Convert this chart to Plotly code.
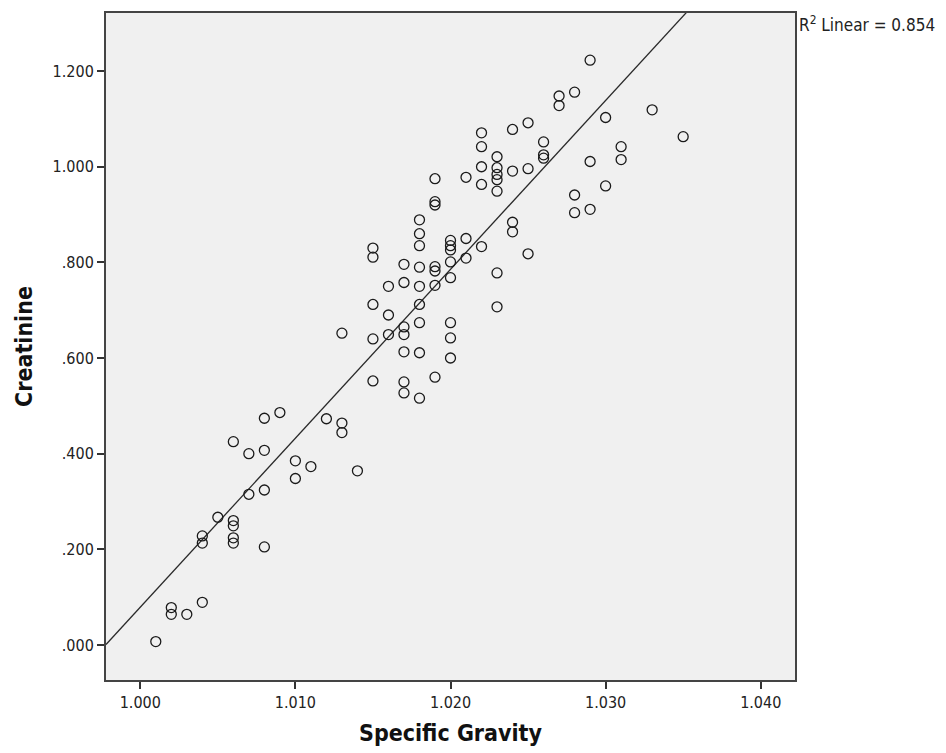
import numpy as np
import plotly.graph_objects as go

# Urine specific gravity vs creatinine, one entry per specimen
specific_gravity = [
    1.001,
    1.002, 1.002,
    1.003,
    1.004, 1.004, 1.004,
    1.005,
    1.006, 1.006, 1.006, 1.006, 1.006,
    1.007, 1.007,
    1.008, 1.008, 1.008, 1.008,
    1.009,
    1.010, 1.010,
    1.011,
    1.012,
    1.013, 1.013, 1.013,
    1.014,
    1.015, 1.015, 1.015, 1.015, 1.015,
    1.016, 1.016, 1.016,
    1.017, 1.017, 1.017, 1.017, 1.017, 1.017, 1.017,
    1.018, 1.018, 1.018, 1.018, 1.018, 1.018, 1.018, 1.018, 1.018,
    1.019, 1.019, 1.019, 1.019, 1.019, 1.019, 1.019,
    1.020, 1.020, 1.020, 1.020, 1.020, 1.020, 1.020, 1.020,
    1.021, 1.021, 1.021,
    1.022, 1.022, 1.022, 1.022, 1.022,
    1.023, 1.023, 1.023, 1.023, 1.023, 1.023, 1.023,
    1.024, 1.024, 1.024, 1.024,
    1.025, 1.025, 1.025,
    1.026, 1.026, 1.026,
    1.027, 1.027,
    1.028, 1.028, 1.028,
    1.029, 1.029, 1.029,
    1.030, 1.030,
    1.031, 1.031,
    1.033,
    1.035,
]
creatinine = [
    0.007,
    0.078, 0.064,
    0.064,
    0.089, 0.228, 0.213,
    0.267,
    0.260, 0.249, 0.224, 0.213, 0.425,
    0.315, 0.400,
    0.324, 0.205, 0.407, 0.474,
    0.486,
    0.385, 0.348,
    0.373,
    0.473,
    0.464, 0.444, 0.652,
    0.364,
    0.712, 0.640, 0.552, 0.830, 0.811,
    0.690, 0.649, 0.750,
    0.665, 0.649, 0.613, 0.550, 0.527, 0.796, 0.758,
    0.712, 0.674, 0.611, 0.516, 0.889, 0.860, 0.835, 0.790, 0.750,
    0.560, 0.975, 0.927, 0.920, 0.791, 0.782, 0.752,
    0.674, 0.642, 0.600, 0.846, 0.835, 0.826, 0.801, 0.768,
    0.978, 0.850, 0.809,
    1.071, 1.042, 1.000, 0.963, 0.833,
    1.021, 0.998, 0.984, 0.973, 0.949, 0.778, 0.707,
    1.078, 0.991, 0.884, 0.864,
    1.092, 0.996, 0.818,
    1.052, 1.025, 1.018,
    1.148, 1.128,
    1.156, 0.941, 0.904,
    1.223, 1.011, 0.911,
    1.103, 0.960,
    1.042, 1.015,
    1.119,
    1.063,
]

x_tick_vals = [1.000, 1.010, 1.020, 1.030, 1.040]
x_tick_text = ["1.000", "1.010", "1.020", "1.030", "1.040"]
y_tick_vals = [0.0, 0.2, 0.4, 0.6, 0.8, 1.0, 1.2]
y_tick_text = [".000", ".200", ".400", ".600", ".800", "1.000", "1.200"]

x_range = [0.99779, 1.04221]
y_range = [-0.0734, 1.3216]

fit_label = "R<sup>2</sup> Linear = 0.854"

# least-squares fit line across the whole x range
sg = np.array(specific_gravity)
cr = np.array(creatinine)
slope, intercept = np.polyfit(sg, cr, 1)
fit_x = np.array(x_range)
fit_y = slope * fit_x + intercept

FONT = "DejaVu Sans Condensed, Liberation Sans Narrow, DejaVu Sans, sans-serif"
INK = "#222222"

fig = go.Figure()
fig.add_trace(go.Scatter(
    x=fit_x, y=fit_y, mode="lines",
    line=dict(color="#2a2a2a", width=1.3),
    hoverinfo="skip", showlegend=False,
))
fig.add_trace(go.Scatter(
    x=specific_gravity, y=creatinine, mode="markers",
    marker=dict(symbol="circle-open", size=10, color="#1a1a1a",
                line=dict(width=1.3, color="#1a1a1a")),
    showlegend=False,
))

fig.add_annotation(
    text=fit_label, xref="paper", yref="paper", x=1.0, y=0.984,
    xanchor="left", yanchor="middle", xshift=2, showarrow=False,
    font=dict(family=FONT, size=17, color=INK),
)

axis_common = dict(
    showgrid=False, zeroline=False,
    showline=True, mirror=True, linecolor="#444444", linewidth=2,
    ticks="outside", ticklen=7, tickwidth=1.5, tickcolor="#333333",
    tickfont=dict(family=FONT, size=16, color=INK),
)

fig.update_layout(
    width=946, height=753,
    margin=dict(l=106, r=151, t=11, b=71),
    paper_bgcolor="white", plot_bgcolor="#f0f0f0",
    xaxis=dict(
        range=x_range, tickvals=x_tick_vals, ticktext=x_tick_text,
        title=dict(text="<b>Specific Gravity</b>", standoff=14,
                   font=dict(family=FONT, size=23, color="#111111")),
        **axis_common,
    ),
    yaxis=dict(
        range=y_range, tickvals=y_tick_vals, ticktext=y_tick_text,
        title=dict(text="<b>Creatinine</b>", standoff=14,
                   font=dict(family=FONT, size=23, color="#111111")),
        **axis_common,
    ),
)

fig.write_html("out.html")
